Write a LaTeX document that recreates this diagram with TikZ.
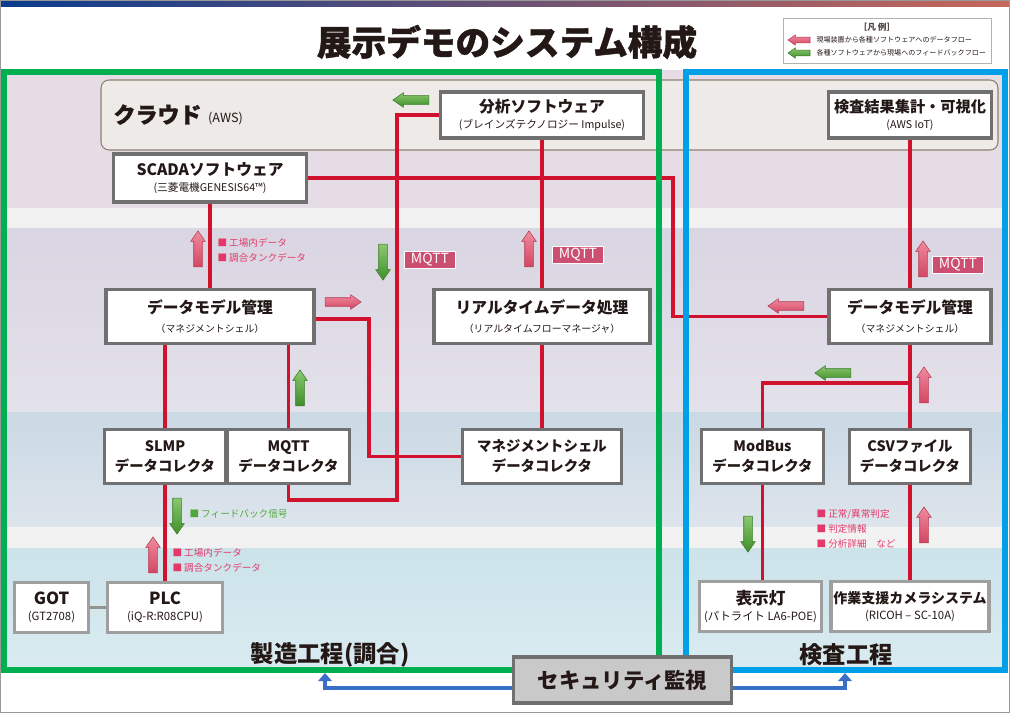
\documentclass[tikz,border=0pt]{standalone}
\usepackage{fontspec}
\setmainfont{Noto Sans CJK JP}
\newfontfamily\heavyfont[BoldFeatures={FakeBold=1.2}]{Noto Sans CJK JP}
\usetikzlibrary{shapes.arrows,arrows.meta}

\definecolor{txtdark}{HTML}{231815}
\definecolor{boxline}{HTML}{707070}
\definecolor{flowred}{HTML}{D0122F}
\definecolor{mfggreen}{HTML}{00B050}
\definecolor{insblue}{HTML}{00A0E9}
\definecolor{secblue}{HTML}{3A6FC8}
\definecolor{secfill}{HTML}{C9C9C9}
\definecolor{lblpink}{HTML}{E4386A}
\definecolor{lblgreen}{HTML}{4EA83C}
\definecolor{mqttfill}{HTML}{CC4E70}
\definecolor{arrred}{HTML}{D44562}
\definecolor{arrredlt}{HTML}{EE8C9E}
\definecolor{arrgreen}{HTML}{3F8F2A}
\definecolor{arrgreenlt}{HTML}{8CC870}
\definecolor{bandA}{HTML}{E6DCE6}
\definecolor{bandB}{HTML}{F2F2F2}
\definecolor{bandC}{HTML}{D9D5E2}
\definecolor{bandCb}{HTML}{E3E1EA}
\definecolor{bandD}{HTML}{CAD9E4}
\definecolor{bandDb}{HTML}{DDE4EC}
\definecolor{bandE}{HTML}{CCE3EA}
\definecolor{bandEb}{HTML}{D9EBF0}
\definecolor{cloudfill}{HTML}{EDEAE8}
\definecolor{barL}{HTML}{0B3C8E}
\definecolor{barM}{HTML}{8EAED8}
\definecolor{barR}{HTML}{C8675A}

\newcommand{\boxhead}[1]{{\fontsize{11.8}{14}\selectfont\bfseries #1}}
\newcommand{\boxsub}[1]{{\fontsize{8}{10}\selectfont #1}}

\tikzset{every picture/.style={line width=0.75pt},
  sysbox/.style={draw=boxline, line width=2.4pt, fill=white, text=txtdark, align=center, inner sep=0pt},
  colbox/.style={sysbox, font=\fontsize{10.8}{15}\selectfont\bfseries, minimum width=91pt, minimum height=41pt},
  flow/.style={draw=flowred, line width=2.6pt},
  fatarrow/.style={single arrow, single arrow head extend=2.3pt, single arrow tip angle=70, inner xsep=0pt, inner ysep=3pt, minimum height=27pt, line width=0.4pt},
  redfat/.style={fatarrow, draw=arrred!85!black, top color=arrredlt, bottom color=arrred},
  greenfat/.style={fatarrow, draw=arrgreen!85!black, top color=arrgreenlt, bottom color=arrgreen},
  mqtttag/.style={fill=mqttfill, draw=white, line width=1pt, text=white, font=\fontsize{10.5}{11}\selectfont, minimum width=38pt, minimum height=13pt, inner sep=0pt},
  pinknote/.style={text=lblpink, align=left, anchor=west, inner sep=0pt, font=\fontsize{7.2}{11.2}\selectfont},
  secline/.style={draw=secblue, line width=2.6pt, -{Triangle[width=10pt,length=6pt]}},
}

\begin{document}
\begin{tikzpicture}[x=0.75pt,y=0.75pt,yscale=-1,xscale=1]
\useasboundingbox (0,0) rectangle (1010,713);

%Shape: bands
\fill[bandA] (3,70) rectangle (1007,208);
\fill[bandB] (3,208) rectangle (1007,228);
\shade[top color=bandC, bottom color=bandCb] (3,228) rectangle (1007,412);
\shade[top color=bandD, bottom color=bandDb] (3,412) rectangle (1007,527);
\fill[bandB] (3,527) rectangle (1007,548);
\shade[top color=bandE, bottom color=bandEb] (3,548) rectangle (1007,668);
%Shape: top bar and page edge
\shade[left color=barL, middle color=barM, right color=barR] (0,0) rectangle (1010,7);
\draw[gray!80, line width=1pt] (0.5,0.5) rectangle (1009.5,712.5);
%Shape: cloud
\draw[draw=gray!75!brown, fill=cloudfill, rounded corners=6pt, line width=0.8pt] (101,80) rectangle (998,150);

% Text Node
\node[text=txtdark, font=\fontsize{26}{30}\heavyfont\bfseries] (title) at (507,42) {展示デモのシステム構成};
% Text Node
\node[anchor=west, text=txtdark, inner sep=0pt] (cloud) at (113,115) {{\fontsize{16.5}{18}\heavyfont\bfseries クラウド}\hspace{5pt}{\fontsize{9.5}{10}\selectfont (AWS)}};

%Shape: legend
\draw[draw=gray!60, fill=white, line width=0.6pt] (783,18) rectangle (991,63);
\node[font=\fontsize{6.5}{7}\selectfont\bfseries, text=txtdark!80] (lgtitle) at (877,27) {［凡 例］};
\node[redfat, rotate=180, minimum height=16.5pt, inner ysep=1.9pt, single arrow head extend=1.7pt] (lgred) at (801,40) {};
\node[greenfat, rotate=180, minimum height=16.5pt, inner ysep=1.9pt, single arrow head extend=1.7pt] (lggreen) at (801,53) {};
\node[anchor=west, inner sep=0pt, font=\fontsize{5.3}{6}\selectfont, text=txtdark] (lgredtxt) at (816,40) {現場装置から各種ソフトウェアへのデータフロー};
\node[anchor=west, inner sep=0pt, font=\fontsize{5.3}{6}\selectfont, text=txtdark] (lggreentxt) at (816,53) {各種ソフトウェアから現場へのフィードバックフロー};

% Nodes: cloud and software
\node[sysbox, minimum width=152pt, minimum height=34.5pt] (ana) at (542,115) {\boxhead{分析ソフトウェア}\\\boxsub{(ブレインズテクノロジー Impulse)}};
\node[sysbox, minimum width=122pt, minimum height=34.5pt] (viz) at (910,115) {{\fontsize{11.4}{14}\selectfont\bfseries 検査結果集計・可視化}\\\boxsub{(AWS IoT)}};
\node[sysbox, minimum width=145pt, minimum height=36pt] (scada) at (210,178) {\boxhead{SCADAソフトウェア}\\\boxsub{(三菱電機GENESIS64™)}};
\node[sysbox, minimum width=156pt, minimum height=41pt] (dmL) at (210,316.5) {\boxhead{データモデル管理}\\[2pt]{\fontsize{7.4}{9}\selectfont （マネジメントシェル）}};
\node[sysbox, minimum width=162pt, minimum height=41pt] (rt) at (542,316.5) {\boxhead{リアルタイムデータ処理}\\[2pt]{\fontsize{7.4}{9}\selectfont （リアルタイムフローマネージャ）}};
\node[sysbox, minimum width=121.5pt, minimum height=41pt] (dmR) at (910,316.5) {\boxhead{データモデル管理}\\[2pt]{\fontsize{7.4}{9}\selectfont （マネジメントシェル）}};

% Nodes: collectors
\node[colbox] (slmp) at (165,456.5) {SLMP\\データコレクタ};
\node[colbox] (mqttc) at (288.5,456.5) {MQTT\\データコレクタ};
\node[colbox, minimum width=119pt] (mshc) at (542,456.5) {マネジメントシェル\\データコレクタ};
\node[colbox] (modbus) at (762.5,456.5) {ModBus\\データコレクタ};
\node[colbox] (csv) at (910,456.5) {CSVファイル\\データコレクタ};

% Nodes: field devices
\node[sysbox, draw=gray!75, minimum width=56pt, minimum height=37pt] (got) at (51.5,607.5) {{\fontsize{12.5}{14}\selectfont\bfseries GOT}\\{\fontsize{8.5}{10}\selectfont (GT2708)}};
\node[sysbox, draw=gray!75, minimum width=86pt, minimum height=37pt] (plc) at (165,607.5) {{\fontsize{12.5}{14}\selectfont\bfseries PLC}\\{\fontsize{8.5}{10}\selectfont (iQ-R:R08CPU)}};
\node[sysbox, draw=gray!75, minimum width=92pt, minimum height=37pt] (lamp) at (760.5,606.5) {{\fontsize{12.5}{14}\selectfont\bfseries 表示灯}\\{\fontsize{8.5}{10}\selectfont (パトライト LA6-POE)}};
\node[sysbox, draw=gray!75, minimum width=118.5pt, minimum height=37pt] (cam) at (910,606.5) {{\fontsize{10.5}{13}\selectfont\bfseries 作業支援カメラシステム}\\{\fontsize{8.5}{10}\selectfont (RICOH – SC-10A)}};

% connectors
\coordinate (jA) at (673,250);
\coordinate (jB) at (397,500);
\coordinate (jC) at (369,400);
\coordinate (jD) at (910,383);
\draw[flow] (scada.east) -| (jA) |- (dmR.west);
\draw[flow] (scada) -- (dmL);
\draw[flow] (mqttc.south) |- (jB) |- (ana.west);
\draw[flow] (ana) -- (rt);
\draw[flow] (rt) -- (mshc);
\draw[flow] ([yshift=2pt]dmL.east) -| (jC) |- (mshc.west);
\draw[flow] (slmp.north |- dmL.south) -- (slmp.north);
\draw[flow] (mqttc.north |- dmL.south) -- (mqttc.north);
\draw[flow] (slmp) -- (plc);
\draw[flow] (viz) -- (dmR);
\draw[flow] (dmR) -- (csv);
\draw[flow] (jD) -| (modbus.north);
\draw[flow] (modbus.south) -- (modbus.south |- lamp.north);
\draw[flow] (csv) -- (cam);
\draw[draw=gray!85, line width=2.5pt] (got) -- (plc);

%Shape: process frames
\draw[mfggreen, line width=3.8pt] (4,72) rectangle (659,670);
\draw[insblue, line width=3.8pt] (686,72) rectangle (1005,670);
% Text Node
\node[text=txtdark, font=\fontsize{17.5}{20}\selectfont\bfseries] (mfg) at (330,655) {製造工程(調合)};
\node[text=txtdark, font=\fontsize{17.5}{20}\selectfont\bfseries] (ins) at (846,655) {検査工程};

% security monitor
\node[sysbox, fill=secfill, minimum width=164pt, minimum height=34.5pt] (sec) at (622.5,680) {{\fontsize{16}{18}\selectfont\bfseries セキュリティ監視}};
\coordinate (mfgend) at (325,673);
\coordinate (insend) at (845,673);
\draw[secline] ([yshift=6pt]sec.west) -| (mfgend);
\draw[secline] ([yshift=6pt]sec.east) -| (insend);

% flow arrows
\node[redfat, rotate=90] (upA) at (198,252) {};
\node[redfat] (rtA) at (340,302) {};
\node[redfat, rotate=90] (upB) at (529,252) {};
\node[redfat, rotate=180] (ltA) at (789,306) {};
\node[redfat, rotate=90] (upC) at (923,262) {};
\node[redfat, rotate=90] (upD) at (924,388) {};
\node[redfat, rotate=90] (upE) at (153,558) {};
\node[redfat, rotate=90] (upF) at (924,528) {};
\node[greenfat, rotate=180] (gltA) at (414,100) {};
\node[greenfat, rotate=-90] (gdnA) at (383,259) {};
\node[greenfat, rotate=90] (gupA) at (300,391) {};
\node[greenfat, rotate=180] (gltB) at (836,373) {};
\node[greenfat, rotate=-90] (gdnB) at (177,513) {};
\node[greenfat, rotate=-90] (gdnC) at (748,531) {};

% MQTT tags
\node[mqtttag] (tagA) at (430,260) {MQTT};
\node[mqtttag] (tagB) at (578,255) {MQTT};
\node[mqtttag] (tagC) at (958,265) {MQTT};

% Text Node
\node[pinknote] (noteA) at (217,250.5) {■ 工場内データ\\■ 調合タンクデータ};
\node[pinknote, text=lblgreen] (noteB) at (189,514) {■ フィードバック信号};
\node[pinknote] (noteC) at (172,560.5) {■ 工場内データ\\■ 調合タンクデータ};
\node[pinknote] (noteD) at (816,529) {■ 正常/異常判定\\■ 判定情報\\■ 分析詳細　など};

\end{tikzpicture}
\end{document}
